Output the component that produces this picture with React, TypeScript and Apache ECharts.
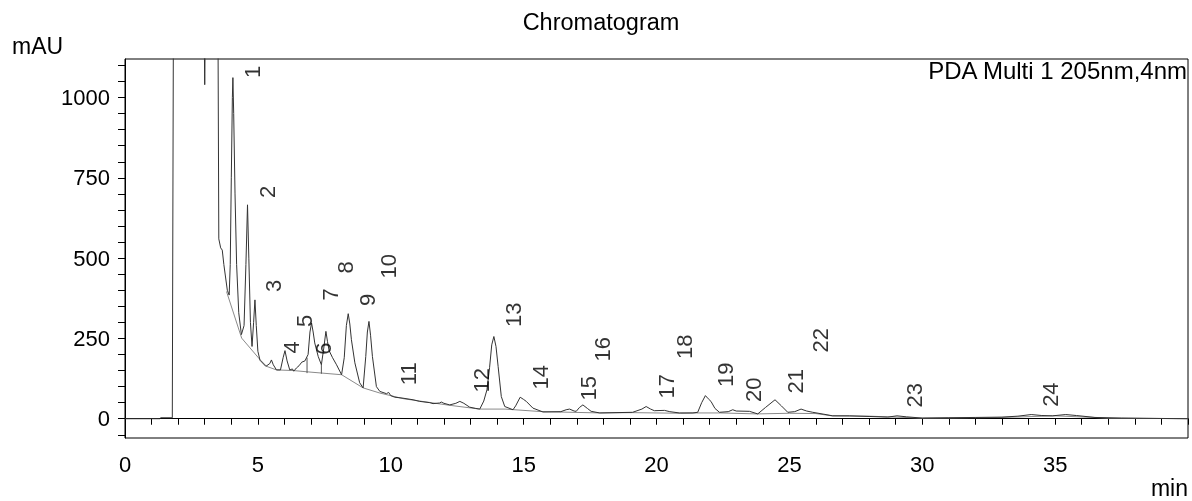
import React, { useEffect, useRef } from "react";
import * as echarts from "echarts";

// Chromatogram trace: [time (min), absorbance (mAU)]
const signal: [number, number][] = [
  [0, 0], [1.3, 0], [1.35, 3], [1.78, 3], [1.82, 1200], [2.98, 1200], [3.0, 1040], [3.02, 1200],
  [3.5, 1200], [3.53, 560], [3.6, 532], [3.66, 525], [3.72, 480], [3.85, 400], [3.92, 385],
  [3.96, 480], [4.0, 750], [4.04, 1000], [4.06, 1062], [4.09, 950], [4.14, 700], [4.2, 480],
  [4.28, 330], [4.38, 262], [4.48, 290], [4.55, 480], [4.61, 666], [4.66, 500], [4.72, 300],
  [4.78, 225], [4.84, 300], [4.89, 370], [4.94, 290], [5.0, 210], [5.08, 182], [5.3, 163],
  [5.45, 172], [5.51, 183], [5.58, 168], [5.7, 152], [5.85, 152], [5.95, 190], [6.02, 212],
  [6.1, 180], [6.2, 152], [6.3, 155], [6.35, 148], [6.45, 158], [6.55, 165], [6.65, 176],
  [6.77, 180], [6.89, 200], [6.96, 270], [7.02, 298], [7.08, 270], [7.14, 236], [7.27, 194],
  [7.39, 168], [7.48, 220], [7.56, 272], [7.62, 240], [7.68, 212], [7.81, 190], [7.96, 168],
  [8.15, 137], [8.25, 190], [8.33, 290], [8.4, 327], [8.46, 295], [8.52, 246], [8.65, 174],
  [8.83, 112], [8.96, 96], [9.06, 194], [9.12, 270], [9.18, 303], [9.24, 260], [9.31, 194],
  [9.46, 100], [9.59, 85], [9.84, 78], [9.92, 82], [10.0, 72], [10.15, 67], [10.46, 64],
  [10.84, 59], [11.09, 54], [11.47, 50], [11.59, 47], [11.84, 49], [11.9, 52], [12.0, 48],
  [12.22, 43], [12.45, 48], [12.6, 54], [12.75, 48], [12.97, 36], [13.2, 32], [13.35, 30],
  [13.5, 55], [13.62, 90], [13.72, 160], [13.8, 230], [13.88, 256], [13.96, 225], [14.04, 163],
  [14.16, 69], [14.29, 38], [14.6, 28], [14.7, 40], [14.87, 67], [15.0, 60], [15.1, 54],
  [15.35, 33], [15.73, 21], [16.4, 22], [16.6, 28], [16.73, 30], [16.9, 24], [16.98, 23],
  [17.1, 35], [17.23, 43], [17.4, 32], [17.54, 23], [17.86, 18], [19.1, 20], [19.45, 30],
  [19.61, 38], [19.78, 30], [19.92, 25], [20.3, 26], [20.5, 22], [20.86, 18], [21.37, 18],
  [21.55, 20], [21.7, 50], [21.84, 72], [21.95, 62], [22.05, 54], [22.2, 32], [22.37, 20],
  [22.7, 22], [22.87, 28], [23.0, 24], [23.5, 23], [23.81, 15], [24.1, 35], [24.46, 59],
  [24.7, 40], [24.94, 20], [25.2, 22], [25.44, 30], [25.65, 24], [25.88, 20], [26.3, 14],
  [26.63, 9], [27.26, 9], [28.0, 7], [28.7, 5], [29.05, 9], [29.4, 6], [30.0, 2], [31.0, 3],
  [32.0, 4], [33.0, 5], [33.6, 8], [34.1, 13], [34.5, 10], [34.9, 9], [35.4, 13], [35.8, 10],
  [36.5, 4], [37.5, 2], [40, 0],
];

// Integration baseline: [time, mAU]
const baseline: [number, number][] = [
  [3.82, 396], [4.39, 251], [5.08, 184], [5.33, 163], [5.7, 152], [6.33, 150], [7.0, 145],
  [8.15, 137], [8.96, 96], [9.59, 80], [10.5, 62], [12.2, 42], [13.35, 30], [14.3, 30],
  [15.7, 22], [17.9, 18], [19.1, 19], [20.9, 17], [21.5, 18], [22.4, 18], [23.8, 15],
  [25.0, 17], [26.0, 16], [26.6, 9], [28.0, 8], [30.0, 2], [33.0, 4], [35.0, 9], [37.0, 2],
  [40.0, 0],
];

// Peak boundary drop lines: [time, bottom mAU, top mAU]
const dropLines: [number, number, number][] = [
  [6.85, 142, 190],
  [7.39, 140, 168],
];

// Peak number labels (label centre: time, mAU)
const peakNames = ["1", "2", "3", "4", "5", "6", "7", "8", "9", "10", "11", "12",
  "13", "14", "15", "16", "17", "18", "19", "20", "21", "22", "23", "24"];
const peakLabelTimes = [4.81, 5.36, 5.6, 6.27, 6.77, 7.48, 7.74, 8.31, 9.12, 9.92, 10.66, 13.41,
  14.62, 15.62, 17.44, 17.97, 20.38, 21.05, 22.58, 23.65, 25.23, 26.18, 29.7, 34.81];
const peakLabelLevels = [1080, 706, 414, 222, 305, 218, 387, 471, 370, 475, 140, 120,
  324, 129, 95, 216, 101, 224, 137, 90, 117, 244, 73, 75];

const xLabelValues = [0, 5, 10, 15, 20, 25, 30, 35];
const xTickValues = Array.from({ length: 41 }, (_, i) => i);
const yLabelValues = [0, 250, 500, 750, 1000];
const yTickValues = Array.from({ length: 24 }, (_, i) => -50 + i * 50);

const FONT = "'Liberation Sans', Arial, sans-serif";

export default function App() {
  const ref = useRef<HTMLDivElement>(null);
  useEffect(() => {
    if (!ref.current) return;
    const chart = echarts.init(ref.current, undefined, { renderer: "svg" });
    const dropSeries = dropLines.map((d) => ({
      type: "line",
      data: [[d[0], d[1]], [d[0], d[2]]],
      symbol: "none",
      lineStyle: { color: "#555", width: 1 },
      silent: true,
      z: 1,
    }));
    chart.setOption({
      animation: false,
      textStyle: { fontFamily: FONT },
      grid: { left: 125, right: 4, top: 59, bottom: 63, show: true, borderColor: "#000", borderWidth: 1 },
      graphic: [
        { type: "text", x: 601, y: 22, style: { text: "Chromatogram", fontSize: 23.5, fontFamily: FONT, fill: "#000", align: "center", verticalAlign: "middle" } },
        { type: "text", x: 12, y: 46, style: { text: "mAU", fontSize: 23, fontFamily: FONT, fill: "#000", align: "left", verticalAlign: "middle" } },
        { type: "text", x: 1187, y: 70, style: { text: "PDA Multi 1 205nm,4nm", fontSize: 24, fontFamily: FONT, fill: "#000", align: "right", verticalAlign: "middle" } },
        { type: "text", x: 1188, y: 488, style: { text: "min", fontSize: 23, fontFamily: FONT, fill: "#000", align: "right", verticalAlign: "middle" } },
      ],
      xAxis: {
        type: "value",
        min: 0,
        max: 40,
        axisLine: { show: true, lineStyle: { color: "#000", width: 1 } },
        axisTick: { show: true, inside: false, length: 6, customValues: xTickValues, lineStyle: { color: "#000" } },
        axisLabel: { customValues: xLabelValues, fontSize: 22, color: "#000", margin: 15, fontFamily: FONT, formatter: (v: number) => String(v) },
        splitLine: { show: false },
      },
      yAxis: {
        type: "value",
        min: -60,
        max: 1120,
        axisLine: { show: true, lineStyle: { color: "#000", width: 1 } },
        axisTick: { show: true, inside: false, length: 7, customValues: yTickValues, lineStyle: { color: "#000" } },
        axisLabel: { customValues: yLabelValues, fontSize: 22, color: "#000", margin: 15, fontFamily: FONT, formatter: (v: number) => String(v) },
        splitLine: { show: false },
      },
      series: [
        {
          type: "line",
          data: baseline,
          symbol: "none",
          lineStyle: { color: "#8a8a8a", width: 1 },
          silent: true,
          z: 1,
        },
        ...dropSeries,
        {
          type: "line",
          data: signal,
          symbol: "none",
          clip: true,
          lineStyle: { color: "#333", width: 1 },
          silent: true,
          z: 2,
        },
        {
          type: "scatter",
          data: peakLabelTimes.map((t, i) => [t, peakLabelLevels[i], peakNames[i]]),
          symbolSize: 0,
          silent: true,
          z: 3,
          label: {
            show: true,
            position: "inside",
            rotate: 90,
            fontSize: 22,
            color: "#000",
            fontFamily: FONT,
            formatter: (p: any) => p.value[2],
          },
        },
      ],
    });
    return () => chart.dispose();
  }, []);
  return <div ref={ref} style={{ position: "fixed", left: 0, top: 0, width: 1192, height: 501 }} />;
}
